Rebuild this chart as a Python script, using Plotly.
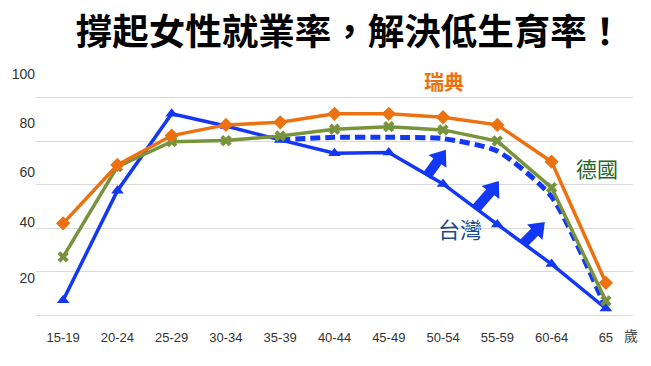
import plotly.graph_objects as go

age_groups = ["15-19", "20-24", "25-29", "30-34", "35-39", "40-44", "45-49",
              "50-54", "55-59", "60-64", "65"]
sweden = [42.3, 69.1, 82.6, 87.5, 88.7, 92.6, 92.6, 91.0, 87.5, 70.6, 15.0]
germany = [26.9, 68.3, 79.8, 80.3, 82.4, 85.5, 86.7, 85.2, 80.1, 58.7, 6.7]
taiwan = [7.0, 57.3, 92.6, 87.0, 80.6, 74.5, 74.8, 60.4, 41.8, 23.6, 3.2]
target_idx = [4, 5, 6, 7, 8, 9, 10]
taiwan_target = [80.6, 81.8, 81.8, 81.2, 75.5, 54.5, 3.3]

# block arrows ("raise Taiwan to target"): shaft start, head centre, heading (deg)
arrow_tail_x = [6.70, 7.605, 8.47]
arrow_tail_y = [64.0, 49.0, 32.8]
arrow_head_x = [6.949, 7.925, 8.752]
arrow_head_y = [72.5, 58.2, 39.8]
arrow_angle = [36, 36, 45]

ytick_vals = [17.1, 42.9, 65.6, 88.5, 111.0]
ytick_text = ["20", "40", "60", "80", "100"]
grid_vals = [0, 20, 40, 60, 80, 100]

BLUE = "#1237F5"
ORANGE = "#EC7211"
GREEN = "#77933C"

x = list(range(len(age_groups)))

fig = go.Figure()
fig.add_trace(go.Scatter(
    x=target_idx, y=taiwan_target, mode="lines",
    line=dict(color=BLUE, width=5, dash="10px,5px", shape="spline", smoothing=0.6),
    showlegend=False, hoverinfo="skip"))
fig.add_trace(go.Scatter(
    x=x, y=taiwan, mode="lines+markers",
    line=dict(color=BLUE, width=3.5),
    marker=dict(symbol="triangle-up", size=11, color=BLUE),
    showlegend=False))
fig.add_trace(go.Scatter(
    x=x, y=germany, mode="lines+markers",
    line=dict(color=GREEN, width=3.5),
    marker=dict(symbol="x", size=10, color=GREEN),
    showlegend=False))
fig.add_trace(go.Scatter(
    x=x, y=sweden, mode="lines+markers",
    line=dict(color=ORANGE, width=3.5),
    marker=dict(symbol="diamond", size=11, color=ORANGE),
    showlegend=False))

# arrow shafts
sx, sy = [], []
for tx, ty, hx, hy in zip(arrow_tail_x, arrow_tail_y, arrow_head_x, arrow_head_y):
    sx += [tx, hx, None]
    sy += [ty, hy, None]
fig.add_trace(go.Scatter(x=sx, y=sy, mode="lines",
                         line=dict(color=BLUE, width=10),
                         showlegend=False, hoverinfo="skip"))
# arrow heads
fig.add_trace(go.Scatter(x=arrow_head_x, y=arrow_head_y, mode="markers",
                         marker=dict(symbol="triangle-up", size=19, color=BLUE,
                                     angle=arrow_angle, line=dict(width=0)),
                         showlegend=False, hoverinfo="skip"))

cjk = "Noto Sans CJK TC"
fig.add_annotation(x=7.02, y=107.3, xref="x", yref="y", text="<b>瑞典</b>", showarrow=False,
                   font=dict(family=cjk, size=20, color=ORANGE))
fig.add_annotation(x=9.83, y=67.7, xref="x", yref="y", text="德國", showarrow=False,
                   font=dict(family=cjk, size=21, color="#1E6A1E"))
fig.add_annotation(x=7.32, y=40.1, xref="x", yref="y", text="台灣", showarrow=False,
                   font=dict(family=cjk, size=22, color="#1B4C8C"))
fig.add_annotation(x=0.9966, y=-0.05, xref="paper", yref="paper", text="歲",
                   showarrow=False, xanchor="center", yanchor="middle",
                   font=dict(family=cjk, size=14, color="#444444"))

fig.update_layout(
    width=651, height=366,
    margin=dict(l=36, r=18, t=65, b=44),
    paper_bgcolor="white", plot_bgcolor="white",
    title=dict(text="<b>撐起女性就業率，解決低生育率！</b>",
               x=0.525, xref="paper", y=1 - 32 / 366, yref="container",
               xanchor="center", yanchor="middle",
               font=dict(family=cjk, size=36.5, color="black")),
    xaxis=dict(range=[-0.5, 10.5], tickmode="array", tickvals=x,
               ticktext=age_groups, showgrid=False, zeroline=False,
               showline=False, ticklabelstandoff=6,
               tickfont=dict(family="Liberation Sans Narrow, Liberation Sans", size=13, color="#333333")),
    yaxis=dict(range=[-3, 115], tickmode="array", tickvals=ytick_vals,
               ticktext=ytick_text, showgrid=False, zeroline=False,
               showline=False,
               tickfont=dict(family="Liberation Sans", size=14, color="#333333"),
               minor=dict(tickmode="array", tickvals=grid_vals, showgrid=True,
                          gridcolor="#D9D9D9", gridwidth=1)),
)

fig.write_html("out.html", config={"displayModeBar": False},
               post_script="document.body.style.margin='0';")
